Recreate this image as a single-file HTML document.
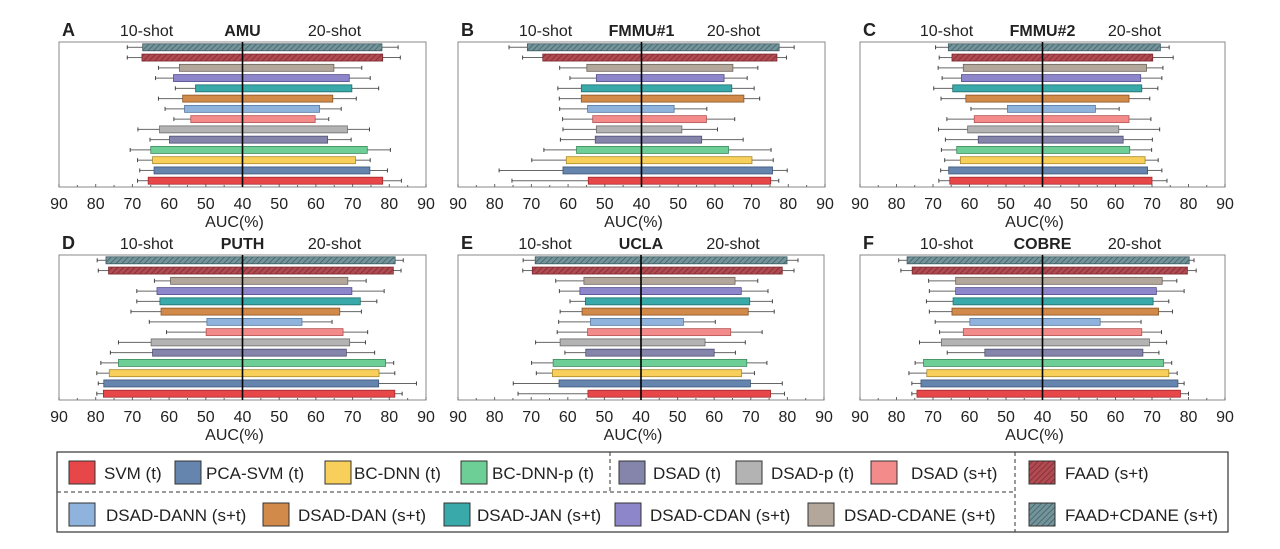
<!DOCTYPE html>
<html><head><meta charset="utf-8"><style>
body{margin:0;background:#fff;}
svg text{font-family:"Liberation Sans",Arial,sans-serif;fill:#222;}
</style></head><body>
<svg id="fig" width="1280" height="544" viewBox="0 0 1280 544" xmlns="http://www.w3.org/2000/svg">
<defs>
<pattern id="hatchRed" patternUnits="userSpaceOnUse" width="4" height="4" patternTransform="rotate(45)"><rect width="4" height="4" fill="#b24a52"/><line x1="0" y1="0" x2="0" y2="4" stroke="#7a2a30" stroke-width="1.5"/></pattern>
<pattern id="hatchTeal" patternUnits="userSpaceOnUse" width="4" height="4" patternTransform="rotate(45)"><rect width="4" height="4" fill="#72949a"/><line x1="0" y1="0" x2="0" y2="4" stroke="#3f5d62" stroke-width="1.5"/></pattern>
</defs>
<g id="panels"></g>
<g id="legend"></g>
</svg>
<script>
// Methods, top row to bottom row
const methods = ["FAAD+CDANE (s+t)","FAAD (s+t)","DSAD-CDANE (s+t)","DSAD-CDAN (s+t)","DSAD-JAN (s+t)","DSAD-DAN (s+t)","DSAD-DANN (s+t)","DSAD (s+t)","DSAD-p (t)","DSAD (t)","BC-DNN-p (t)","BC-DNN (t)","PCA-SVM (t)","SVM (t)"];
const panelNames = ["AMU","FMMU#1","FMMU#2","PUTH","UCLA","COBRE"];
const panelLetters = ["A","B","C","D","E","F"];
const tickLabels = ["90","80","70","60","50","40","50","60","70","80","90"];
// 10-shot (left) means and error-bar ends; 20-shot (right) means and error-bar ends
const aL=[67.2,67.4,57.2,58.8,52.8,56.3,55.8,54.1,62.6,59.9,65,64.5,64.1,65.7];
const aLe=[71.4,71.4,62.9,63.7,58.3,62.9,61.1,58.7,68.5,65.2,70.6,68.6,68,68.6];
const aR=[78,78.2,64.9,69.1,69.8,64.6,61,59.8,68.6,63.2,74,70.8,74.7,78.2];
const aRe=[82.4,83,72.5,74.8,77.1,71,66.9,63.5,74.6,69.6,80.3,74.8,79.5,83.3];
const bL=[71.1,66.9,54.9,52.3,56.4,56.4,54.7,53.3,52.3,52.6,57.7,60.5,61.4,54.5];
const bLe=[76.1,72.4,62.3,59.5,62.8,62.4,62.3,61.5,61.4,62.1,66.6,69.9,78.8,75.3];
const bR=[77.5,76.9,64.9,62.5,64.6,67.9,48.9,57.7,51,56.4,63.7,70.1,75.7,75.2];
const bRe=[81.6,79.5,71.7,68.8,70.7,72.2,57.8,65.4,60.7,67.7,75.3,75.9,79.7,77.4];
const cL=[65.8,64.8,61.7,62.2,64.6,61,49.6,58.7,60.5,57.6,63.5,62.5,65.7,65.4];
const cLe=[69.3,68.3,68.6,67.5,69.8,67.8,59.6,66.2,68.5,66.6,67.7,66.8,67.9,68.4];
const cR=[72.3,70.2,68.5,66.9,67.2,63.7,54.5,63.7,60.9,62.1,63.9,68.1,68.8,70];
const cRe=[74.7,75.8,73,72.7,71.6,69.4,61,69.7,72.1,70.1,69.9,71.7,72.7,74.1];
const dL=[77.2,76.5,59.6,63.3,62.5,62.2,49.7,49.9,64.9,64.5,73.8,76.3,77.8,77.9];
const dLe=[79.6,79.3,64,68.8,68.8,70.4,65.4,60.7,73.8,76,78.6,79.7,79.3,79.7];
const dR=[81.6,81.1,68.7,69.8,72.1,66.5,56.2,67.4,69.2,68.3,79,77.2,77.1,81.5];
const dRe=[83.8,83.2,73.7,78.6,76.6,72.4,64.4,74.1,73.5,76,81.2,81.5,87.4,83.5];
const eL=[68.9,69.7,55.6,56.7,55.2,56.1,53.8,54.6,62.1,55.1,64,64.2,62.4,54.5];
const eLe=[72.2,72.3,63.3,62.3,59.4,62.1,62.5,62.9,68.8,60.8,69.9,68.6,74.9,73.6];
const eR=[79.9,78.6,65.7,67.4,69.7,69.3,51.6,64.5,57.5,60,68.9,67.5,69.9,75.4];
const eRe=[82.9,81.8,71.9,74.7,75.9,76.4,60.3,73.1,68.5,65.8,74.4,71,78.6,79.2];
const fL=[77.1,75.7,63.8,63.8,64.5,64.8,59.9,61.7,67.7,55.8,72.6,71.7,73.3,74.4];
const fLe=[79.4,78.8,71.2,71,71.8,71,69.4,68.2,73.7,66.1,74.9,76.6,75.8,75.8];
const fR=[80.2,79.7,72.8,71.2,70.3,71.8,55.8,67.2,69.3,67.5,73.2,74.6,77.1,77.8];
const fRe=[81.5,82.1,76.8,78.8,74.6,75.6,67,72.6,74,71.9,75.4,76.9,78.8,80];

const fills=["url(#hatchTeal)","url(#hatchRed)","#b3a79b","#8e86cb","#3aa9a9","#d28a4a","#8fb3dc","#f38b8b","#b3b3b3","#8585ac","#6dce96","#f7cf5a","#6585ae","#e8474a"];
const strokes=["#3f5d62","#7a2a30","#6e645a","#564f8c","#1f6e6e","#8a5523","#5679a0","#b35555","#6d6d6d","#4f4f75","#3b8a5d","#a88a2a","#3c5578","#a02a2d"];

const NS="http://www.w3.org/2000/svg";
function mk(tag,attrs,parent){const e=document.createElementNS(NS,tag);for(const k in attrs)e.setAttribute(k,attrs[k]);parent.appendChild(e);return e;}

const geo=[
 {x0:59,x1:426,y0:42,y1:187},{x0:458,x1:825,y0:42,y1:187},{x0:860,x1:1225,y0:42,y1:187},
 {x0:59,x1:426,y0:255,y1:400},{x0:458,x1:824,y0:255,y1:400},{x0:860,x1:1225,y0:255,y1:400}];
const data=[[aL,aLe,aR,aRe],[bL,bLe,bR,bRe],[cL,cLe,cR,cRe],[dL,dLe,dR,dRe],[eL,eLe,eR,eRe],[fL,fLe,fR,fRe]];
const root=document.getElementById('panels');

geo.forEach((g,p)=>{
  const grp=mk('g',{},root);
  
  
  const cx=(g.x0+g.x1)/2, half=(g.x1-g.x0)/2;
  const xL=v=>cx-(v-40)/50*half;
  const xR=v=>cx+(v-40)/50*half;
  const step=(g.y1-g.y0-11.6)/13;
  const yC=i=>g.y0+5.3+i*step;
  const box=mk('rect',{x:g.x0,y:g.y0,width:g.x1-g.x0,height:g.y1-g.y0,fill:'none',stroke:'#888','stroke-width':1},grp);
  
  
  for(let k=0;k<=20;k++){
    const x=g.x0+k*(g.x1-g.x0)/20;
    mk('line',{x1:x,x2:x,y1:g.y1,y2:g.y1-(k%2==0?3:2),stroke:'#666','stroke-width':1},grp);
  }
  tickLabels.forEach((t,k)=>{
    const tl=mk('text',{x:g.x0+k*(g.x1-g.x0)/10,y:g.y1+22,'text-anchor':'middle','font-size':16},grp);
    tl.textContent=t;
    
    
  });
  const at=mk('text',{x:cx-8,y:g.y1+40,'text-anchor':'middle','font-size':16},grp);
  at.textContent='AUC(%)';
  
  
  const ty=g.y0-6;
  const lt=mk('text',{x:g.x0+3,y:ty,'font-size':18,'font-weight':'bold',fill:'#111'},grp);
  lt.textContent=panelLetters[p];
  
  
  const s10=mk('text',{x:cx-96,y:ty,'text-anchor':'middle','font-size':16},grp);
  s10.textContent='10-shot';
  
  
  const ttl=mk('text',{x:cx,y:ty,'text-anchor':'middle','font-size':16,'font-weight':'bold'},grp);
  ttl.textContent=panelNames[p];
  
  
  const s20=mk('text',{x:cx+92,y:ty,'text-anchor':'middle','font-size':16},grp);
  s20.textContent='20-shot';
  
  
  const [L,Le,R,Re]=data[p];
  methods.forEach((m,i)=>{
    const y=yC(i), h=7;
    const ex1=xL(Le[i]), ex2=xR(Re[i]);
    mk('line',{x1:xL(L[i]),x2:ex1,y1:y,y2:y,stroke:'#666','stroke-width':1},grp);
    mk('line',{x1:ex1,x2:ex1,y1:y-2,y2:y+2,stroke:'#444','stroke-width':1},grp);
    mk('line',{x1:xR(R[i]),x2:ex2,y1:y,y2:y,stroke:'#666','stroke-width':1},grp);
    mk('line',{x1:ex2,x2:ex2,y1:y-2,y2:y+2,stroke:'#444','stroke-width':1},grp);
    const bl=mk('rect',{x:xL(L[i]),y:y-h/2,width:cx-xL(L[i]),height:h,fill:fills[i],stroke:strokes[i],'stroke-width':0.8},grp);
    
    
    const br=mk('rect',{x:cx,y:y-h/2,width:xR(R[i])-cx,height:h,fill:fills[i],stroke:strokes[i],'stroke-width':0.8},grp);
    
    
  });
  const cl=mk('line',{x1:cx,x2:cx,y1:g.y0,y2:g.y1,stroke:'#000','stroke-width':1.6},grp);
  
  
});

const lg=document.getElementById('legend');
mk('rect',{x:57,y:452,width:1171,height:80,fill:'none',stroke:'#333','stroke-width':1.2},lg);
mk('line',{x1:57,x2:1015,y1:492,y2:492,stroke:'#333','stroke-width':1,'stroke-dasharray':'4,3'},lg);
mk('line',{x1:610,x2:610,y1:452,y2:492,stroke:'#333','stroke-width':1,'stroke-dasharray':'4,3'},lg);
mk('line',{x1:1015,x2:1015,y1:452,y2:532,stroke:'#333','stroke-width':1,'stroke-dasharray':'4,3'},lg);
const legItems=[
 [13,69,104,461],[12,175,206,461],[11,325,354,461],[10,461,492,461],[9,619,653,461],[8,736,771,461],[7,871,911,461],[1,1029,1065,461],
 [6,69,106,503],[5,263,298,503],[4,444,477,503],[3,615,650,503],[2,808,844,503],[0,1029,1065,503]];
legItems.forEach(([i,sx,tx,y])=>{
  const sw=mk('rect',{x:sx,y:y,width:26,height:23,fill:fills[i],stroke:'#333','stroke-width':1},lg);
  
  
  const t=mk('text',{x:tx,y:y+18,'font-size':17},lg);
  t.textContent=methods[i];
  
  
});
</script>
</body></html>
